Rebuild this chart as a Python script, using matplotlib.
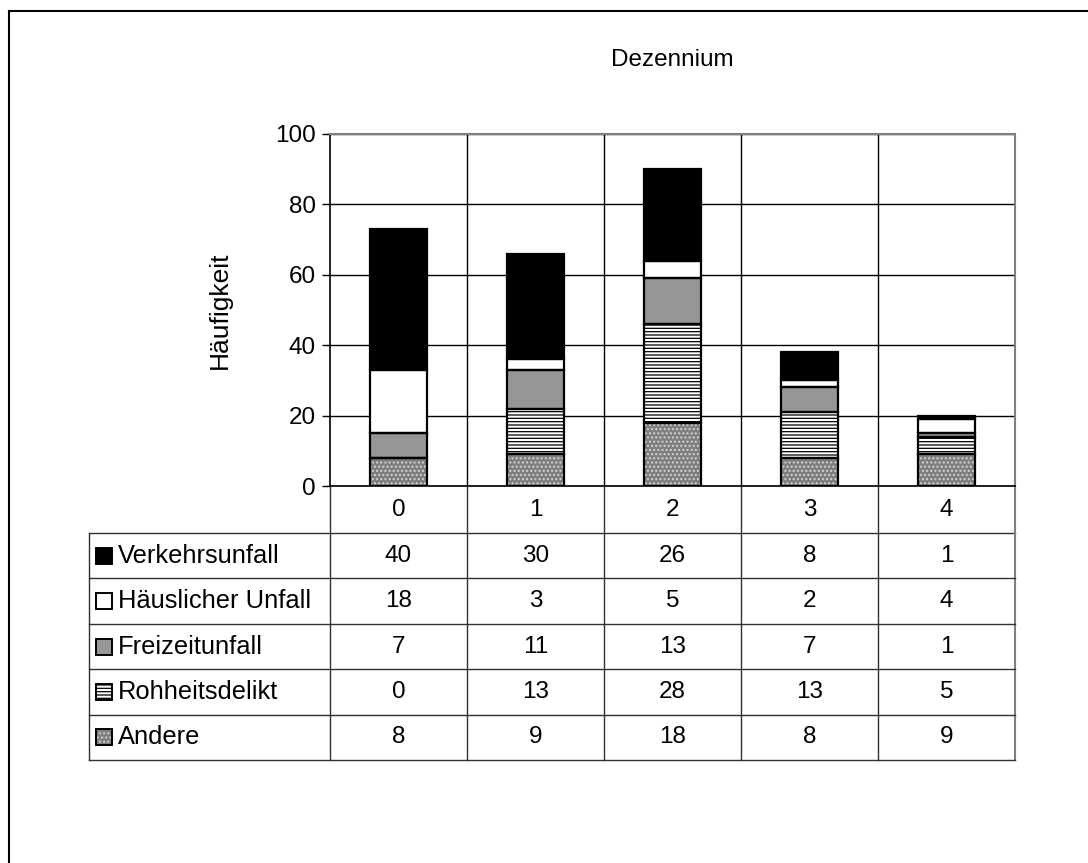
import matplotlib
matplotlib.use("Agg")
import matplotlib.pyplot as plt
from matplotlib.patches import Rectangle
from matplotlib import transforms

plt.rcParams['font.family'] = ['Liberation Sans', 'DejaVu Sans']
plt.rcParams['hatch.linewidth'] = 0.9

# Unfallzahlen je Dezennium
dezennien = ["0", "1", "2", "3", "4"]
verkehrsunfall = [40, 30, 26, 8, 1]
haeuslicher_unfall = [18, 3, 5, 2, 4]
freizeitunfall = [7, 11, 13, 7, 1]
rohheitsdelikt = [0, 13, 28, 13, 5]
andere = [8, 9, 18, 8, 9]

# Reihenfolge der Tabelle (oben nach unten); gestapelt wird umgekehrt
series = [
    ("Verkehrsunfall", verkehrsunfall, dict(facecolor="black", hatch=None, hatchcolor=None)),
    ("Häuslicher Unfall", haeuslicher_unfall, dict(facecolor="white", hatch=None, hatchcolor=None)),
    ("Freizeitunfall", freizeitunfall, dict(facecolor="#969696", hatch=None, hatchcolor=None)),
    ("Rohheitsdelikt", rohheitsdelikt, dict(facecolor="white", hatch="-----", hatchcolor="black")),
    ("Andere", andere, dict(facecolor="#7f7f7f", hatch="....", hatchcolor="#d8d8d8")),
]

W, H = 1088, 863
FS = 17.5
FS_ROW = 18.4
fig = plt.figure(figsize=(W / 100, H / 100), dpi=100)

# Pixelkoordinaten für Rahmen und Tabelle
px = fig.add_axes([0, 0, 1, 1])
px.set_xlim(0, W)
px.set_ylim(H, 0)
px.axis("off")

left, right, top, bottom = 330, 1015, 134, 486
ax = fig.add_axes([left / W, 1 - bottom / H, (right - left) / W, (bottom - top) / H])

x = list(range(len(dezennien)))
width = 0.41
base = [0] * len(x)
for name, vals, st in reversed(series):
    if st["hatch"]:
        ax.bar(x, vals, width, bottom=base, facecolor=st["facecolor"],
               edgecolor=st["hatchcolor"], hatch=st["hatch"], linewidth=0, zorder=3)
    else:
        ax.bar(x, vals, width, bottom=base, facecolor=st["facecolor"],
               linewidth=0, zorder=3)
    ax.bar(x, vals, width, bottom=base, fill=False, edgecolor="black",
           linewidth=1.6, zorder=4)
    base = [b + v for b, v in zip(base, vals)]

ax.set_xlim(-0.5, len(x) - 0.5)
ax.set_ylim(0, 100)
ax.set_yticks(range(0, 101, 20))
ax.set_xticks([])
ax.tick_params(axis="y", labelsize=FS, length=6, width=1, direction="out", pad=4)
ax.yaxis.grid(True, color="black", linewidth=1, zorder=0)
for xb in [i + 0.5 for i in x[:-1]]:
    ax.axvline(xb, color="black", linewidth=1, zorder=0)
ax.set_axisbelow(True)
for side in ["top", "right"]:
    ax.spines[side].set_color("#808080")
    ax.spines[side].set_linewidth(1.5)
ax.spines["left"].set_linewidth(1.2)
ax.spines["bottom"].set_linewidth(1.2)

fig.text((left + right) / 2 / W, 1 - 60 / H, "Dezennium", ha="center", va="center", fontsize=FS)
fig.text(220 / W, 1 - (top + bottom) / 2 / H, "Häufigkeit", ha="center", va="center",
         rotation=90, fontsize=19)

# Datentabelle unter dem Diagramm
tr = transforms.blended_transform_factory(ax.transData, px.transData)
tab_left, head_bot, row_h = 89, 533, 45.4
n_rows = len(series)
tab_bot = head_bot + n_rows * row_h
lc = "#303030"

# Kopfzeile mit den Dezennien
for i, lab in zip(x, dezennien):
    px.text(i, (bottom + head_bot) / 2, lab, transform=tr, ha="center", va="center", fontsize=FS)
px.plot([left, right], [head_bot, head_bot], color=lc, lw=1)
px.plot([right, right], [bottom, tab_bot], color="#808080", lw=1.5)
px.plot([left, left], [bottom, tab_bot], color=lc, lw=1)
for xb in [i + 0.5 for i in x[:-1]]:
    px.plot([xb, xb], [bottom, tab_bot], transform=tr, color=lc, lw=1)

px.plot([tab_left, left], [head_bot, head_bot], color=lc, lw=1)
px.plot([tab_left, tab_left], [head_bot, tab_bot], color=lc, lw=1)
for r, (name, vals, st) in enumerate(series):
    y0 = head_bot + r * row_h
    yc = y0 + row_h / 2
    px.plot([tab_left, right], [y0 + row_h, y0 + row_h], color=lc, lw=1)
    s = 16
    if st["hatch"]:
        px.add_patch(Rectangle((96, yc - s / 2), s, s, facecolor=st["facecolor"],
                               edgecolor=st["hatchcolor"], hatch=st["hatch"], linewidth=0))
    else:
        px.add_patch(Rectangle((96, yc - s / 2), s, s, facecolor=st["facecolor"], linewidth=0))
    px.add_patch(Rectangle((96, yc - s / 2), s, s, fill=False, edgecolor="black", linewidth=1.4))
    px.text(118, yc, name, ha="left", va="center", fontsize=FS_ROW)
    for i, v in zip(x, vals):
        px.text(i, yc, str(v), transform=tr, ha="center", va="center", fontsize=FS)

# äußerer Rahmen
px.plot([9, 9], [11, H], color="black", lw=1.5)
px.plot([9, W], [11, 11], color="black", lw=1.5)

fig.savefig("out.png", dpi=100)
